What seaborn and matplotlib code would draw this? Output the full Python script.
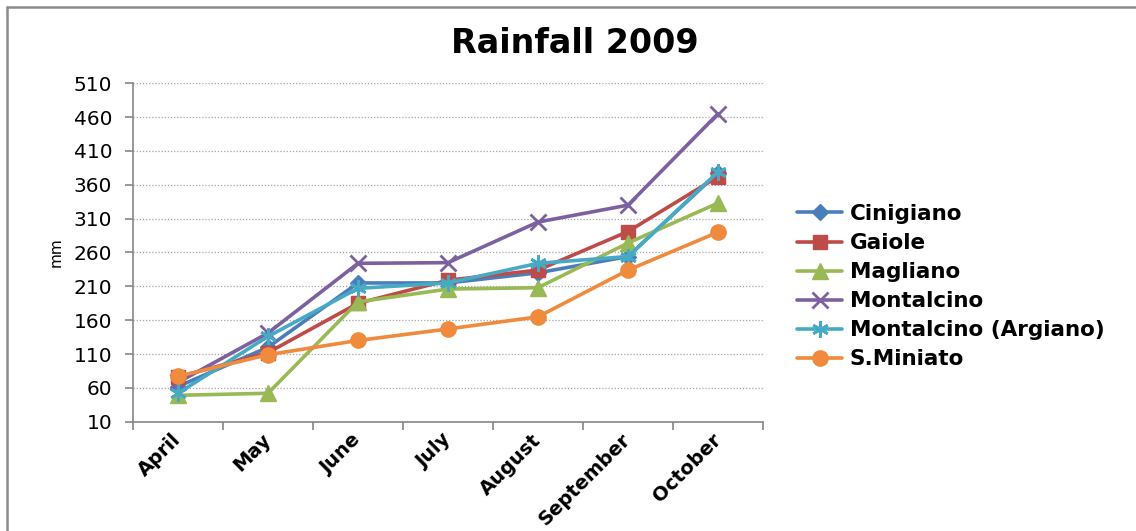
import matplotlib
matplotlib.use("Agg")
import matplotlib.pyplot as plt
from matplotlib.lines import Line2D
import seaborn as sns
import numpy as np

# Monthly rainfall (mm), 2009
months = ["April", "May", "June", "July", "August", "September", "October"]
stations = ["Cinigiano", "Gaiole", "Magliano", "Montalcino",
            "Montalcino (Argiano)", "S.Miniato"]
cinigiano = [62, 120, 215, 215, 230, 254, 378]
gaiole = [76, 112, 185, 219, 234, 291, 372]
magliano = [49, 52, 187, 206, 208, 274, 333]
montalcino = [68, 141, 244, 245, 305, 330, 465]
montalcino_argiano = [52, 136, 207, 215, 244, 254, 379]
s_miniato = [77, 109, 130, 147, 165, 234, 290]
series = [cinigiano, gaiole, magliano, montalcino, montalcino_argiano, s_miniato]
y_ticks = list(range(10, 511, 50))

colors = ["#4A7EBB", "#BE4B48", "#98B954", "#7D60A0", "#46AAC5", "#F08A3C"]
markers = ["D", "s", "^", "x", (6, 2, 0), "o"]
msizes = [8, 10, 11, 11, 12, 11]

sns.set_theme(style="white")
plt.rcParams["font.family"] = ["DejaVu Sans"]
plt.rcParams["text.color"] = "black"
plt.rcParams["axes.labelcolor"] = "black"
plt.rcParams["xtick.color"] = "black"
plt.rcParams["ytick.color"] = "black"

fig = plt.figure(figsize=(11.36, 5.31), dpi=100)
ax = fig.add_axes([133 / 1136, 1 - 421.7 / 531, 630 / 1136, (421.7 - 83.3) / 531])

for name, vals, c, m, ms in zip(stations, series, colors, markers, msizes):
    filled = m not in ("x",) and not isinstance(m, tuple)
    sns.lineplot(x=months, y=vals, ax=ax, color=c, linewidth=2.6, sort=False,
                 marker=m, markersize=ms, markerfacecolor=c,
                 markeredgecolor=c, markeredgewidth=1.0 if filled else 2.0,
                 label=name, legend=False)

ax.set_xlim(-0.5, len(months) - 0.5)
ax.set_ylim(y_ticks[0], y_ticks[-1])
ax.set_yticks(y_ticks)
ax.set_yticklabels([str(v) for v in y_ticks], fontsize=14.5, color="black")

ax.set_xticks(np.arange(len(months)))
ax.set_xticklabels(months, fontsize=14, fontweight="bold", rotation=45,
                   ha="right", va="center", rotation_mode="anchor", color="black")
ax.set_xticks(np.arange(-0.5, len(months), 1), minor=True)
ax.tick_params(axis="x", which="major", length=0, pad=11)
ax.tick_params(axis="x", which="minor", length=6, width=1.2, color="#868686",
               direction="out", bottom=True)
ax.tick_params(axis="y", length=6, width=1.2, color="#868686", direction="out",
               left=True, pad=9)

ax.yaxis.grid(True, linestyle=(0, (1, 1.5)), color="#A6A6A6", linewidth=0.9)
ax.xaxis.grid(False)
ax.set_axisbelow(True)
for side in ("top", "right"):
    ax.spines[side].set_visible(False)
for side in ("left", "bottom"):
    ax.spines[side].set_color("#868686")
    ax.spines[side].set_linewidth(1.2)

ax.set_xlabel("")
ax.set_ylabel("mm", fontsize=11, labelpad=7, color="black")

fig.text(575 / 1136, 1 - 53.3 / 531, "Rainfall 2009", fontsize=24,
         fontweight="bold", ha="center", va="baseline", color="black")

handles, labels = ax.get_legend_handles_labels()
leg = fig.legend(handles, labels, loc="upper left",
                 bbox_to_anchor=(797 / 1136, 1 - 204 / 531),
                 bbox_transform=fig.transFigure, frameon=False, borderpad=0,
                 borderaxespad=0, handlelength=2.1, handletextpad=0.35,
                 labelspacing=0.42, prop={"size": 15.5, "weight": "bold"})
for t in leg.get_texts():
    t.set_color("black")

# Chart-area border (left and top edges)
fig.add_artist(Line2D([7 / 1136, 1.0], [1 - 7 / 531, 1 - 7 / 531],
                      transform=fig.transFigure, color="#8C8C8C", linewidth=1.8))
fig.add_artist(Line2D([7 / 1136, 7 / 1136], [0.0, 1 - 7 / 531],
                      transform=fig.transFigure, color="#8C8C8C", linewidth=1.8))

fig.savefig("out.png", dpi=100)
